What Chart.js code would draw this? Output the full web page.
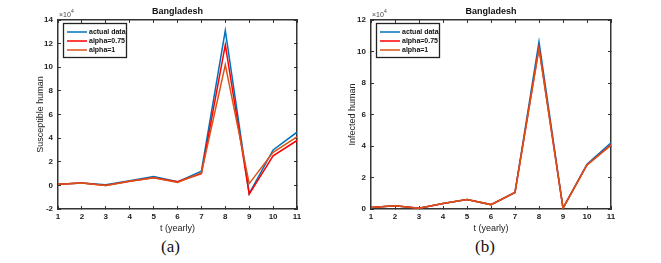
<!DOCTYPE html>
<html>
<head>
<meta charset="utf-8">
<script src="https://cdn.jsdelivr.net/npm/chart.js@4"></script>
<style>
  body { margin: 0; background: #fff; width: 661px; height: 263px; position: relative; overflow: hidden; }
  .box { position: absolute; top: 0; height: 236px; }
  .cap { position: absolute; top: 237px; font-family: "Liberation Serif", "Times New Roman", serif; font-size: 17px; color: #111; }
</style>
</head>
<body>
<div class="box" style="left:0;width:330px"><canvas id="chartA"></canvas></div>
<div class="box" style="left:330px;width:331px"><canvas id="chartB"></canvas></div>
<div class="cap" style="left:161px">(a)</div>
<div class="cap" style="left:475px">(b)</div>
<script>
// years on the x axis
const years = [1, 2, 3, 4, 5, 6, 7, 8, 9, 10, 11];
const seriesNames = ['actual data', 'alpha=0.75', 'alpha=1'];
const seriesColors = ['#0072BD', '#FF0000', '#D95319'];

// susceptible human (x 10^4)
const susActual = [0.1, 0.2, 0.05, 0.4, 0.75, 0.3, 1.2, 13.1, -0.7, 3.0, 4.5];
const susAlpha075 = [0.1, 0.2, 0.0, 0.35, 0.65, 0.3, 1.0, 11.9, -0.75, 2.5, 3.8];
const susAlpha1 = [0.1, 0.2, 0.0, 0.35, 0.65, 0.25, 1.05, 10.2, 0.15, 2.8, 4.1];

// infected human (x 10^4)
const infActual = [0.1, 0.2, 0.05, 0.35, 0.6, 0.28, 1.05, 10.62, 0.05, 2.85, 4.2];
const infAlpha075 = [0.1, 0.2, 0.05, 0.35, 0.6, 0.28, 1.05, 10.25, 0.05, 2.8, 4.08];
const infAlpha1 = [0.1, 0.2, 0.05, 0.35, 0.6, 0.28, 1.05, 10.2, 0.05, 2.8, 4.05];

const FONT = '"Liberation Sans", Arial, sans-serif';
const AXIS = '#333333';

// title, exponent and legend in MATLAB style
const matlabDecor = {
    id: 'matlabDecor',
    afterDraw(chart) {
        const ctx = chart.ctx;
        const a = chart.chartArea;
        ctx.save();

        ctx.fillStyle = '#111';
        ctx.font = 'bold 9px ' + FONT;
        ctx.textAlign = 'center';
        ctx.textBaseline = 'middle';
        ctx.fillText(chart.options.frameTitle, (a.left + a.right) / 2, a.top - 8);

        ctx.fillStyle = '#444';
        ctx.textAlign = 'left';
        ctx.textBaseline = 'alphabetic';
        ctx.font = '7px ' + FONT;
        ctx.fillText('\u00d710', a.left + 1, a.top - 3);
        ctx.font = '5px ' + FONT;
        ctx.fillText('4', a.left + 13, a.top - 7);

        const lx = a.left + 5, ly = a.top + 3, lw = 63, lh = 34;
        ctx.fillStyle = '#fff';
        ctx.fillRect(lx, ly, lw, lh);
        ctx.strokeStyle = '#222';
        ctx.lineWidth = 1.3;
        ctx.strokeRect(Math.round(lx) + 0.5, Math.round(ly) + 0.5, lw, lh);
        ctx.font = 'bold 7px ' + FONT;
        ctx.textBaseline = 'middle';
        chart.data.datasets.forEach((ds, i) => {
            const y = ly + 9 + i * 9;
            ctx.strokeStyle = ds.borderColor;
            ctx.lineWidth = 1.5;
            ctx.beginPath();
            ctx.moveTo(lx + 4, y); ctx.lineTo(lx + 24, y);
            ctx.stroke();
            ctx.fillStyle = '#111';
            ctx.fillText(ds.label, lx + 26, y);
        });
        ctx.restore();
    }
};

// inward tick marks and a full box, made from the four axes
const frameGrid = { display: true, drawOnChartArea: false, drawTicks: true, tickLength: -3, color: AXIS, lineWidth: 1 };
const frameBorder = { display: true, color: AXIS, width: 1.5 };

function makeChart(id, title, yTitle, series, yMin, yMax, pad) {
    const ctx = document.getElementById(id).getContext('2d');
    return new Chart(ctx, {
        type: 'line',
        data: {
            datasets: series.map((vals, i) => ({
                label: seriesNames[i],
                data: years.map((x, k) => ({ x: x, y: vals[k] })),
                borderColor: seriesColors[i],
                borderWidth: 1.5,
                pointRadius: 0,
                tension: 0,
                order: 2 - i
            }))
        },
        options: {
            frameTitle: title,
            responsive: true,
            maintainAspectRatio: false,
            animation: false,
            layout: { padding: { top: 20, right: pad.right, left: 0, bottom: 0 } },
            plugins: { legend: { display: false }, tooltip: { enabled: false }, title: { display: false } },
            scales: {
                x: {
                    type: 'linear', position: 'bottom', min: 1, max: 11,
                    grid: frameGrid, border: frameBorder,
                    afterFit: s => { s.height = 27; },
                    ticks: { stepSize: 1, padding: 6, color: '#222', font: { family: FONT, size: 8, weight: 'bold' }, maxRotation: 0 },
                    title: { display: true, text: 't (yearly)', color: '#222', padding: { top: 0, bottom: 2 }, font: { family: FONT, size: 9 } }
                },
                xTop: {
                    type: 'linear', position: 'top', axis: 'x', min: 1, max: 11,
                    grid: frameGrid, border: frameBorder,
                    afterFit: s => { s.height = 0; },
                    ticks: { stepSize: 1, display: false }
                },
                y: {
                    position: 'left', min: yMin, max: yMax,
                    grid: frameGrid, border: frameBorder,
                    afterFit: s => { s.width = pad.left; },
                    ticks: { stepSize: 2, padding: 8, color: '#222', font: { family: FONT, size: 8, weight: 'bold' } },
                    title: { display: true, text: yTitle, color: '#222', padding: { top: pad.titleOffset, bottom: 0 }, font: { family: FONT, size: 9 } }
                },
                yRight: {
                    position: 'right', axis: 'y', min: yMin, max: yMax,
                    grid: frameGrid, border: frameBorder,
                    afterFit: s => { s.width = 0; },
                    ticks: { stepSize: 2, display: false }
                }
            }
        },
        plugins: [matlabDecor]
    });
}

makeChart('chartA', 'Bangladesh', 'Susceptible human',
    [susActual, susAlpha075, susAlpha1], -2, 14,
    { left: 58, right: 33, titleOffset: 35 });
makeChart('chartB', 'Bangladesh', 'Infected human',
    [infActual, infAlpha075, infAlpha1], 0, 12,
    { left: 41, right: 50, titleOffset: 17 });
</script>
</body>
</html>
